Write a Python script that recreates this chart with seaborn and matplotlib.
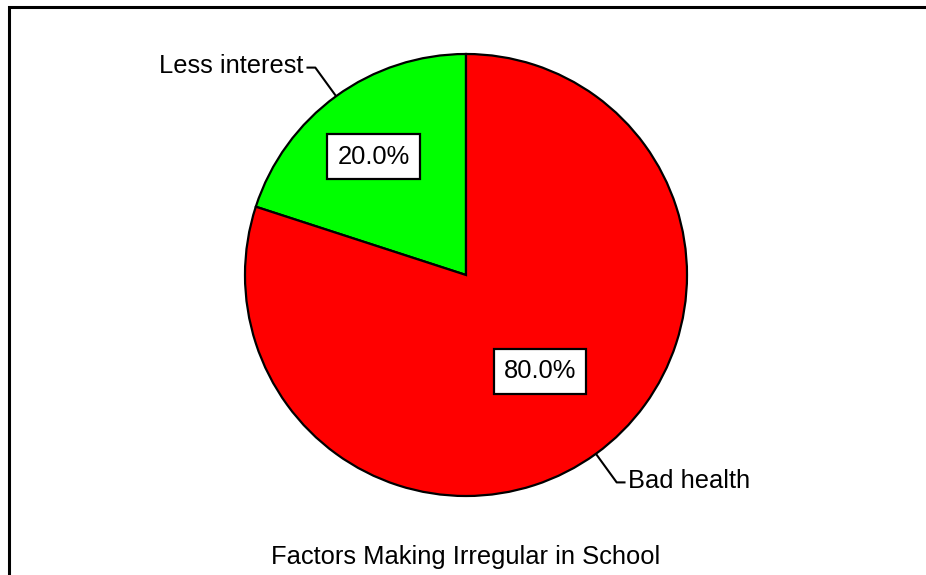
import numpy as np
import matplotlib
matplotlib.use("Agg")
import matplotlib.pyplot as plt
import matplotlib.patches as mpatches
import seaborn as sns

categories = ["Less interest", "Bad health"]
values = [20.0, 80.0]
colors = ["#00ff00", "#ff0000"]
pct_labels = ["20.0%", "80.0%"]
title = "Factors Making Irregular in School"

sns.set_style("white")
plt.rcParams['font.family'] = ['Liberation Sans', 'DejaVu Sans']
plt.rcParams['text.color'] = 'black'

W, H, DPI = 926, 575, 100
fig = plt.figure(figsize=(W / DPI, H / DPI), dpi=DPI)
ax = fig.add_axes([0, 0, 1, 1])

cx, cy, R = 466.0, 275.0, 221.0

wedges, _ = ax.pie(values, colors=colors, startangle=90, counterclock=True,
                   radius=1.0, center=(0, 0), frame=True,
                   wedgeprops=dict(edgecolor='black', linewidth=1.6))
ax.set_xlim(-cx / R, (W - cx) / R)
ax.set_ylim(-(H - cy) / R, cy / R)
ax.set_aspect('auto')
ax.axis('off')

fs = 18.4
pct_dist = [0.68, 0.55]
pct_ang_off = [2.0, 1.5]
for w, lab, pl, pdist, aoff in zip(wedges, categories, pct_labels, pct_dist, pct_ang_off):
    midd = (w.theta1 + w.theta2) / 2
    mid = np.deg2rad(midd)
    pa = np.deg2rad(midd + aoff)
    cxm, sym = np.cos(mid), np.sin(mid)
    # percent box
    ax.text(pdist * np.cos(pa), pdist * np.sin(pa), pl, ha='center', va='center',
            fontsize=fs, color='black',
            bbox=dict(boxstyle='square,pad=0.40', facecolor='white',
                      edgecolor='black', linewidth=1.6))
    # leader line
    p0 = (cxm, sym)
    p1 = (1.16 * cxm, 1.16 * sym)
    side = np.sign(cxm)
    p2 = (p1[0] + side * 0.04, p1[1])
    ax.plot([p0[0], p1[0], p2[0]], [p0[1], p1[1], p2[1]], color='black', lw=1.5,
            solid_capstyle='butt')
    ax.text(p2[0] + side * 0.012, p2[1] + 0.005, lab, fontsize=fs, color='black',
            ha='left' if side > 0 else 'right', va='center')

ax.text(0, (cy - 557) / R, title, ha='center', va='center', fontsize=fs,
        color='black')

# outer frame (cropped on right and bottom)
frame = mpatches.Rectangle((9 / W, -0.05), 1.2, 1 - 7 / H + 0.05,
                           transform=fig.transFigure, fill=False,
                           edgecolor='black', linewidth=2.2, clip_on=False)
fig.patches.append(frame)

fig.savefig("out.png", dpi=DPI, facecolor='white')
